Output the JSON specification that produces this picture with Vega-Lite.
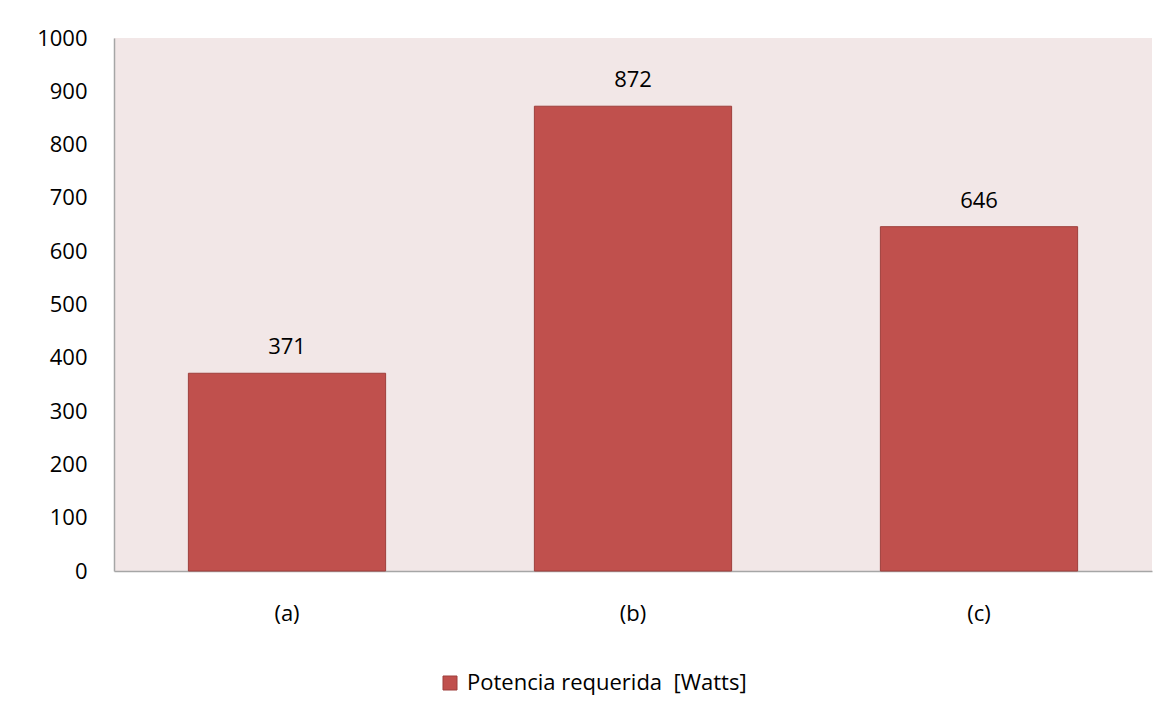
{
  "$schema": "https://vega.github.io/schema/vega-lite/v6.json",
  "autosize": "none",
  "width": 1038,
  "height": 533,
  "padding": {"left": 114, "top": 38, "right": 20, "bottom": 144},
  "background": "white",
  "config": {
    "font": "Open Sans",
    "view": {"fill": "#F2E7E7", "stroke": null},
    "axis": {"labelFont": "Open Sans", "labelFontSize": 22, "labelColor": "#000000", "grid": false, "ticks": false, "tickSize": 0, "domainColor": "#A6A6A6", "domainWidth": 1.5, "title": null}
  },
  "data": {
    "values": [
      {"caso": "(a)", "potencia": 371, "serie": "Potencia requerida\u00a0 [Watts]"},
      {"caso": "(b)", "potencia": 872, "serie": "Potencia requerida\u00a0 [Watts]"},
      {"caso": "(c)", "potencia": 646, "serie": "Potencia requerida\u00a0 [Watts]"}
    ]
  },
  "encoding": {
    "x": {"field": "caso", "type": "nominal", "scale": {"paddingInner": 0, "paddingOuter": 0}, "axis": {"labelAngle": 0, "labelPadding": 32}}
  },
  "layer": [
    {
      "mark": {"type": "bar", "width": {"band": 0.57}, "stroke": "#9E3F3C", "strokeWidth": 1},
      "encoding": {
        "y": {"field": "potencia", "type": "quantitative", "scale": {"domain": [0, 1000]}, "axis": {"values": [0, 100, 200, 300, 400, 500, 600, 700, 800, 900, 1000], "format": "d", "labelPadding": 27}},
        "color": {"field": "serie", "type": "nominal", "scale": {"range": ["#C0504D"]}, "legend": {"orient": "none", "legendX": 325, "legendY": 634, "title": null, "symbolType": "square", "symbolSize": 196, "symbolStrokeColor": "#9E3F3C", "symbolStrokeWidth": 1, "labelFontSize": 22, "labelFont": "Open Sans", "labelColor": "#000000", "labelOffset": 6, "labelLimit": 500}}
      }
    },
    {
      "mark": {"type": "text", "baseline": "alphabetic", "dy": -19, "fontSize": 22, "font": "Open Sans", "color": "#000000"},
      "encoding": {
        "y": {"field": "potencia", "type": "quantitative"},
        "text": {"field": "potencia", "type": "quantitative"}
      }
    }
  ]
}
